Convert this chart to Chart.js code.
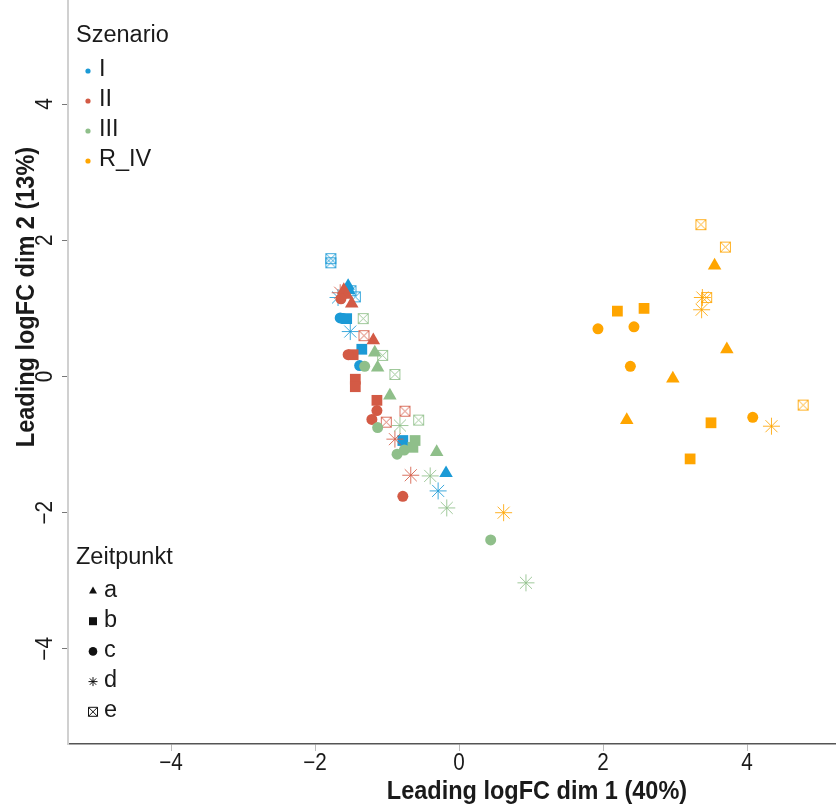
<!DOCTYPE html>
<html><head><meta charset="utf-8">
<script src="https://cdn.jsdelivr.net/npm/chart.js@4/dist/chart.umd.min.js"></script>
<style>html,body{margin:0;padding:0;background:#fff}#wrap{width:836px;height:805px;position:relative}canvas{display:block}</style>
</head><body><div id="wrap"><canvas id="c" width="836" height="805"></canvas></div>
<script>
// ---- data ----
const scenarios = ['I', 'II', 'III', 'R_IV'];
const timepoints = ['a', 'b', 'c', 'd', 'e'];
const scenarioColors = ['#1B9AD6', '#D35A45', '#8FBF8A', '#FFA500'];
const xTicks = [-4, -2, 0, 2, 4];
const yTicks = [-4, -2, 0, 2, 4];
const xTitle = 'Leading logFC dim 1 (40%)';
const yTitle = 'Leading logFC dim 2 (13%)';
const legendTitle1 = 'Szenario';
const legendTitle2 = 'Zeitpunkt';

// [timepoint, dim1, dim2]
const pointsI = [
  ['e', -1.78, 1.73], ['e', -1.78, 1.67], ['e', -1.44, 1.17], ['e', -1.50, 1.26],
  ['a', -1.54, 1.33], ['a', -1.53, 1.27], ['a', -0.18, -1.42],
  ['b', -1.56, 0.85], ['b', -1.35, 0.40], ['b', -0.78, -0.94],
  ['c', -1.65, 0.86], ['c', -1.61, 0.85], ['c', -1.38, 0.16],
  ['d', -1.68, 1.16], ['d', -1.51, 0.66], ['d', -0.29, -1.68]
];
const pointsII = [
  ['a', -1.60, 1.27], ['a', -1.56, 1.20], ['a', -1.49, 1.07], ['a', -1.19, 0.53],
  ['b', -1.47, 0.32], ['b', -1.44, -0.04], ['b', -1.44, -0.15], ['b', -1.14, -0.35],
  ['c', -1.64, 1.14], ['c', -1.54, 0.32], ['c', -1.21, -0.63], ['c', -1.14, -0.50], ['c', -0.78, -1.76],
  ['d', -0.89, -0.92], ['d', -0.67, -1.45], ['d', -1.65, 1.23],
  ['e', -1.32, 0.60], ['e', -0.75, -0.51], ['e', -1.01, -0.67]
];
const pointsIII = [
  ['a', -1.17, 0.35], ['a', -1.13, 0.13], ['a', -0.96, -0.28], ['a', -0.31, -1.11],
  ['b', -0.61, -0.94], ['b', -0.64, -1.04],
  ['c', -1.31, 0.15], ['c', -1.13, -0.75], ['c', -0.86, -1.14], ['c', 0.44, -2.40], ['c', -0.76, -1.08],
  ['d', -0.82, -0.72], ['d', -0.40, -1.46], ['d', -0.17, -1.93], ['d', 0.93, -3.03],
  ['e', -1.33, 0.85], ['e', -1.06, 0.31], ['e', -0.89, 0.03], ['e', -0.56, -0.64]
];
const pointsRIV = [
  ['a', 3.55, 1.63], ['a', 3.72, 0.40], ['a', 2.97, -0.03], ['a', 2.33, -0.64],
  ['b', 2.20, 0.96], ['b', 2.57, 1.00], ['b', 3.50, -0.68], ['b', 3.21, -1.21],
  ['c', 1.93, 0.70], ['c', 2.43, 0.73], ['c', 2.38, 0.15], ['c', 4.08, -0.60],
  ['d', 3.38, 1.16], ['d', 3.37, 0.98], ['d', 4.34, -0.73], ['d', 0.62, -2.00],
  ['e', 3.36, 2.23], ['e', 3.70, 1.90], ['e', 3.44, 1.16], ['e', 4.78, -0.42]
];
const scenarioPoints = [pointsI, pointsII, pointsIII, pointsRIV];

// ---- styling helpers ----
const FONT = '"Liberation Sans", Arial, sans-serif';
function hexA(hex, a) {
  const n = parseInt(hex.slice(1), 16);
  return `rgba(${(n >> 16) & 255},${(n >> 8) & 255},${n & 255},${a})`;
}
function boxXImage(color) {
  const s = 13, c = document.createElement('canvas');
  c.width = s; c.height = s;
  const g = c.getContext('2d');
  g.strokeStyle = color; g.lineWidth = 1;
  g.strokeRect(1.5, 1.5, 10, 10);
  g.beginPath();
  g.moveTo(1.5, 1.5); g.lineTo(11.5, 11.5);
  g.moveTo(11.5, 1.5); g.lineTo(1.5, 11.5);
  g.stroke();
  return c;
}
const styleFor = {
  a: { pointStyle: 'triangle', r: 7.8, filled: true },
  b: { pointStyle: 'rect', r: 7.6, filled: true },
  c: { pointStyle: 'circle', r: 5.5, filled: true },
  d: { pointStyle: 'star', r: 8.5, filled: false },
  e: { pointStyle: null, r: 6.5, filled: false }
};

const datasets = [];
scenarios.forEach((sc, si) => {
  const col = scenarioColors[si];
  timepoints.forEach((tp, ti) => {
    const st = styleFor[tp];
    const pts = scenarioPoints[si].filter(p => p[0] === tp).map(p => ({ x: p[1], y: p[2] }));
    datasets.push({
      label: sc + ' ' + tp,
      data: pts,
      pointStyle: tp === 'e' ? boxXImage(hexA(col, 0.85)) : st.pointStyle,
      pointRadius: st.r,
      backgroundColor: st.filled ? col : 'transparent',
      borderColor: st.filled ? col : hexA(col, 0.85),
      borderWidth: st.filled ? 0 : 1,
      order: (4 - si) * 10 + (5 - ti)
    });
  });
});

function txt(ctx, s, x, y, font, sx, rot, align) {
  ctx.save();
  ctx.font = font;
  ctx.textAlign = align || 'left';
  ctx.textBaseline = 'alphabetic';
  ctx.translate(x, y);
  if (rot) ctx.rotate(rot);
  ctx.scale(sx, 1);
  ctx.fillText(s, 0, 0);
  ctx.restore();
}

const annotate = {
  id: 'annotate',
  afterDraw(chart) {
    const ctx = chart.ctx, xs = chart.scales.x, ys = chart.scales.y;
    ctx.save();
    ctx.fillStyle = '#1a1a1a';
    const tickFont = '23px ' + FONT;
    xTicks.forEach(v => {
      txt(ctx, v < 0 ? '\u2212' + Math.abs(v) : String(v), xs.getPixelForValue(v), 770, tickFont, 0.9, 0, 'center');
    });
    yTicks.forEach(v => {
      txt(ctx, v < 0 ? '\u2212' + Math.abs(v) : String(v), 52, ys.getPixelForValue(v), tickFont, 0.9, -Math.PI / 2, 'center');
    });
    const titleFont = 'bold 25px ' + FONT;
    txt(ctx, xTitle, 537, 799, titleFont, 0.94, 0, 'center');
    txt(ctx, yTitle, 34, 297, titleFont, 0.94, -Math.PI / 2, 'center');

    // legend 1: Szenario
    const lf = '23.5px ' + FONT;
    txt(ctx, legendTitle1, 76, 42, lf, 1, 0, 'left');
    scenarios.forEach((s, i) => {
      ctx.fillStyle = scenarioColors[i];
      ctx.beginPath(); ctx.arc(88, 71 + 30 * i, 2.6, 0, Math.PI * 2); ctx.fill();
      ctx.fillStyle = '#1a1a1a';
      txt(ctx, s, 99, 76 + 30 * i, lf, 1, 0, 'left');
    });
    // legend 2: Zeitpunkt
    txt(ctx, legendTitle2, 76, 563.5, lf, 1, 0, 'left');
    timepoints.forEach((t, i) => {
      const cy = 591 + 30.2 * i, cx = 93;
      ctx.fillStyle = '#111'; ctx.strokeStyle = '#111'; ctx.lineWidth = 1;
      ctx.beginPath();
      if (t === 'a') { ctx.moveTo(cx, cy - 4.5); ctx.lineTo(cx + 4, cy + 2.5); ctx.lineTo(cx - 4, cy + 2.5); ctx.closePath(); ctx.fill(); }
      else if (t === 'b') { ctx.rect(cx - 4, cy - 4, 8, 8); ctx.fill(); }
      else if (t === 'c') { ctx.arc(cx, cy, 4.3, 0, Math.PI * 2); ctx.fill(); }
      else if (t === 'd') {
        for (let k = 0; k < 4; k++) {
          const a = k * Math.PI / 4;
          ctx.moveTo(cx - 4.5 * Math.cos(a), cy - 4.5 * Math.sin(a));
          ctx.lineTo(cx + 4.5 * Math.cos(a), cy + 4.5 * Math.sin(a));
        }
        ctx.stroke();
      } else {
        ctx.rect(cx - 4.5, cy - 4.5, 9, 9);
        ctx.moveTo(cx - 4.5, cy - 4.5); ctx.lineTo(cx + 4.5, cy + 4.5);
        ctx.moveTo(cx + 4.5, cy - 4.5); ctx.lineTo(cx - 4.5, cy + 4.5);
        ctx.stroke();
      }
      ctx.fillStyle = '#1a1a1a';
      txt(ctx, t, 104, 597 + 30 * i, lf, 1, 0, 'left');
    });
    ctx.restore();
  }
};

new Chart(document.getElementById('c'), {
  type: 'scatter',
  data: { datasets },
  options: {
    responsive: false,
    animation: false,
    devicePixelRatio: 1,
    events: [],
    layout: { padding: 0, autoPadding: false },
    plugins: { legend: { display: false }, tooltip: { enabled: false } },
    scales: {
      x: {
        type: 'linear', position: 'bottom',
        min: (68 - 459) / 72, max: (836 - 459) / 72,
        afterFit: s => { s.height = 61; },
        afterBuildTicks: s => { s.ticks = xTicks.map(v => ({ value: v })); },
        border: { display: true, color: '#555', width: 1.5 },
        grid: { display: true, drawOnChartArea: false, drawTicks: true, tickLength: 7, tickColor: '#bbb', tickWidth: 1 },
        ticks: { display: false }
      },
      y: {
        type: 'linear', position: 'left',
        min: (376.5 - 744) / 68.1, max: 376.5 / 68.1,
        afterFit: s => { s.width = 68; },
        afterBuildTicks: s => { s.ticks = yTicks.map(v => ({ value: v })); },
        border: { display: true, color: '#d0d0d0', width: 2 },
        grid: { display: true, drawOnChartArea: false, drawTicks: true, tickLength: 6, tickColor: '#777', tickWidth: 1 },
        ticks: { display: false }
      }
    }
  },
  plugins: [annotate]
});
</script></body></html>
